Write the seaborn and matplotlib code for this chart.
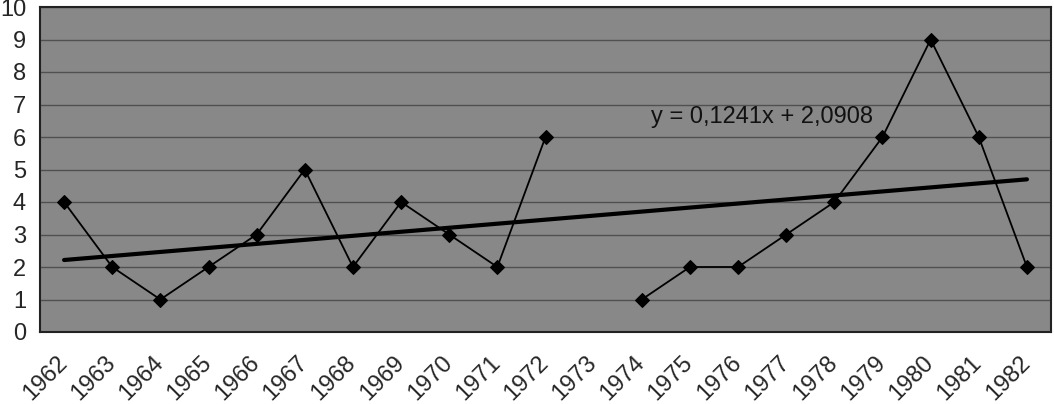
import numpy as np
import pandas as pd
import matplotlib
matplotlib.use('Agg')
import matplotlib.pyplot as plt
import matplotlib.transforms as mtrans
import seaborn as sns

years = [str(y) for y in range(1962, 1983)]
values = [4, 2, 1, 2, 3, 5, 2, 4, 3, 2, 6, np.nan, 1, 2, 2, 3, 4, 6, 9, 6, 2]
segment = [0] * 12 + [1] * 9

df = pd.DataFrame({'year': years, 'value': values, 'seg': segment})
df['idx'] = np.arange(len(df))

sns.set_style('white')
plt.rcParams['font.family'] = ['Liberation Sans', 'DejaVu Sans']

fig = plt.figure(figsize=(10.54, 4.04), dpi=100)
ax = fig.add_axes([40 / 1054, 72 / 404, 1011 / 1054, 325 / 404])
ax.set_facecolor('#888888')

# trend line (linear fit over available points)
ok = df.dropna()
slope, intercept = np.polyfit(ok['idx'] + 1, ok['value'], 1)
sns.regplot(data=ok, x='idx', y='value', scatter=False, ci=None, ax=ax,
            line_kws={'color': 'black', 'lw': 3, 'zorder': 3})

sns.lineplot(data=df.dropna(), x='idx', y='value', units='seg', estimator=None,
             color='black', lw=1.3, marker='D', markersize=7,
             markeredgecolor='black', ax=ax, zorder=4)

eq = f'y = {slope:.4f}x + {intercept:.4f}'.replace('.', ',')
ax.text(14.5, 6.62, eq, ha='center', va='center', fontsize=17, color='#111111')

ax.set_xlim(-0.5, len(years) - 0.5)
ax.set_ylim(0, 10)
ax.set_yticks(range(0, 11))
ax.set_yticklabels([str(v) for v in range(0, 11)], fontsize=17)
ax.set_xticks(df['idx'])
ax.set_xticks(np.arange(-0.5, len(years)), minor=True)
ax.tick_params(axis='x', which='major', length=0, pad=14)
ax.tick_params(axis='x', which='minor', length=6, color='#c8c8c8', width=1)
ax.tick_params(axis='y', length=7, color='#9a9a9a', width=1, pad=3)
ax.set_xticklabels(years, rotation=45, ha='right', rotation_mode='anchor', fontsize=17)
shift = mtrans.ScaledTranslation(-8 / 100, 0, fig.dpi_scale_trans)
for lab in ax.get_xticklabels():
    lab.set_transform(lab.get_transform() + shift)
ax.grid(axis='y', color='#505050', lw=1)
ax.set_axisbelow(True)
ax.set_xlabel('')
ax.set_ylabel('')
for s in ax.spines.values():
    s.set_color('#222222')
    s.set_linewidth(1.5)

fig.savefig('out.png', dpi=100)
